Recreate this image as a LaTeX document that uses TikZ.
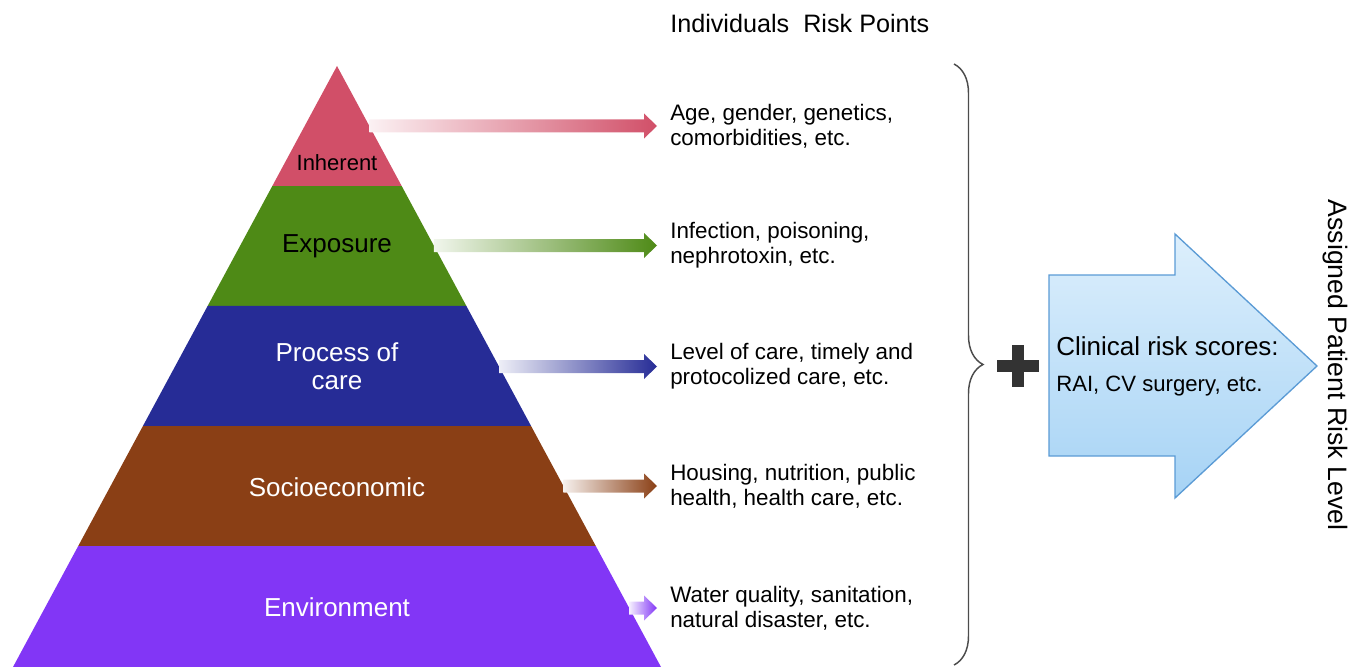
\documentclass[tikz,border=0pt]{standalone}
\usepackage{fontspec}
\setmainfont{Liberation Sans}
\usetikzlibrary{calc,decorations.pathreplacing}

\definecolor{inhcol}{HTML}{D14F68}
\definecolor{expcol}{HTML}{4E8A16}
\definecolor{proccol}{HTML}{262C96}
\definecolor{soccol}{HTML}{8A3F15}
\definecolor{envcol}{HTML}{8236F6}
\definecolor{bigtop}{HTML}{DDEFFC}
\definecolor{bigbot}{HTML}{A6D3F5}
\definecolor{bigedge}{HTML}{5B9BD5}
\definecolor{plusgray}{HTML}{333333}

\tikzset{
  layertext/.style={font=\fontsize{19.5}{21}\selectfont, align=center},
  pointtext/.style={font=\fontsize{16.8}{18.6}\selectfont, align=left, anchor=west, inner sep=0pt},
  bracestyle/.style={decorate, decoration={brace, amplitude=21.75pt}, line width=1.1pt, draw=gray!60!black},
}

% gradient arrow from the pyramid edge (pos on apex--br) to a text node
\newcommand{\riskarrow}[3]{%
  \coordinate (s) at ($(apex)!#1!(br)$);
  \coordinate (t) at ($(#2.west)+(-13,0)$);
  \shade[left color=#3!8, right color=#3]
    ($(s |- t)+(0,-6.5)$) -- ($(t)+(-13,-6.5)$) -- ($(t)+(-13,-12.5)$) -- (t)
    -- ($(t)+(-13,12.5)$) -- ($(t)+(-13,6.5)$) -- ($(s |- t)+(0,6.5)$) -- cycle;}

\begin{document}
\begin{tikzpicture}[x=0.75pt,y=-0.75pt]
	\useasboundingbox (0,0) rectangle (1350,667);
	% Piramide
	\coordinate (apex) at (337,66);
	\coordinate (bl) at (13,667);
	\coordinate (br) at (661,667);
	\foreach \ta/\tb/\col in {0/0.19967/inhcol, 0.19967/0.39933/expcol, 0.39933/0.599/proccol, 0.599/0.79867/soccol, 0.79867/1/envcol}
		\fill[\col] ($(apex)!\ta!(bl)$) -- ($(apex)!\ta!(br)$) -- ($(apex)!\tb!(br)$) -- ($(apex)!\tb!(bl)$) -- cycle;
	\node [layertext, font=\fontsize{16.5}{18}\selectfont] (inh) at (337,163) {Inherent};
	\node [layertext] (exp) at (337,246) {Exposure};
	\node [layertext, text=white] (proc) at (337,366) {Process of\\care};
	\node [layertext, text=white] (soc) at (337,487) {Socioeconomic};
	\node [layertext, text=white] (env) at (337,607) {Environment};
	% Punti di rischio
	\node [pointtext, font=\fontsize{18.9}{20}\selectfont] (title) at (670,23) {Individuals~ Risk Points};
	\node [pointtext] (p1) at (670,126) {Age, gender, genetics,\\comorbidities, etc.};
	\node [pointtext] (p2) at (670,245.5) {Infection, poisoning,\\nephrotoxin, etc.};
	\node [pointtext] (p3) at (670,366.5) {Level of care, timely and\\protocolized care, etc.};
	\node [pointtext] (p4) at (670,486) {Housing, nutrition, public\\health, health care, etc.};
	\node [pointtext] (p5) at (670,608) {Water quality, sanitation,\\natural disaster, etc.};
	% Frecce
	\riskarrow{0.0998}{p1}{inhcol}
	\riskarrow{0.2987}{p2}{expcol}
	\riskarrow{0.5}{p3}{proccol}
	\riskarrow{0.6988}{p4}{soccol}
	\riskarrow{0.9018}{p5}{envcol}
	% Parentesi e piu
	\coordinate (btop) at (954,64);
	\coordinate (bbot) at (954,665);
	\draw [bracestyle] (btop) -- (bbot);
	\coordinate (plus) at (1018,366);
	\draw [plusgray, line width=9pt] ($(plus)+(-21,0)$) -- ($(plus)+(21,0)$);
	\draw [plusgray, line width=9pt] ($(plus)+(0,-21)$) -- ($(plus)+(0,21)$);
	% Freccia grande
	\draw [bigedge, line width=1pt, top color=bigtop, bottom color=bigbot]
		(1049,275) -- (1175,275) -- (1175,234) -- (1317,366) -- (1175,498) -- (1175,456) -- (1049,456) -- cycle;
	\node [anchor=west, inner sep=0pt, font=\fontsize{19.5}{21}\selectfont] (clin) at (1056,346) {Clinical risk scores:};
	\node [anchor=west, inner sep=0pt, font=\fontsize{16.6}{18}\selectfont] (rai) at (1056,386) {RAI, CV surgery, etc.};
	\node [rotate=-90, font=\fontsize{20}{22}\selectfont] (level) at (1335,365) {Assigned Patient Risk Level};
\end{tikzpicture}
\end{document}
